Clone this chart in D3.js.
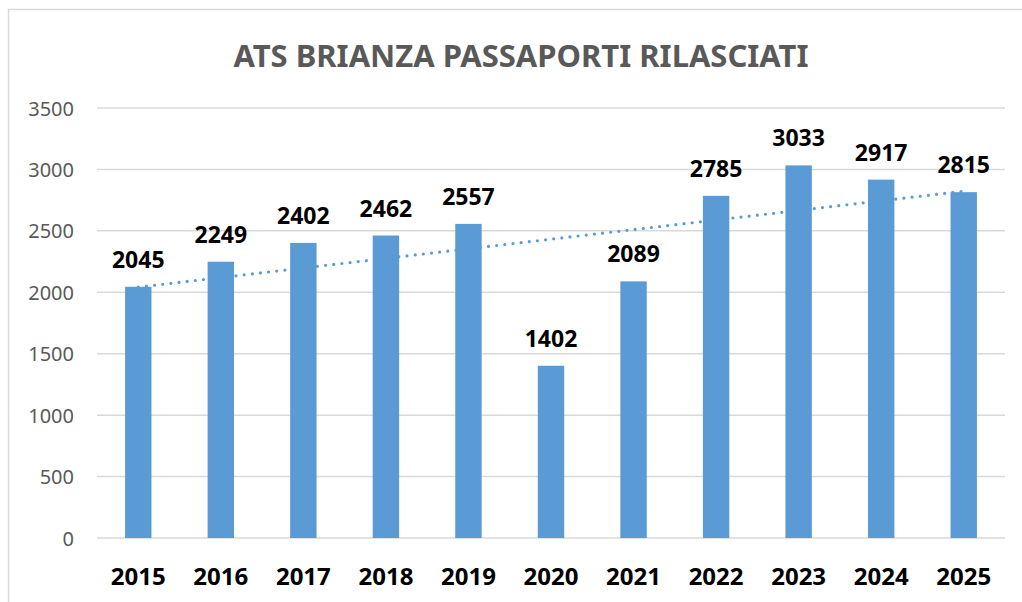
<!DOCTYPE html>
<html>
<head>
<meta charset="utf-8">
<script src="https://cdn.jsdelivr.net/npm/d3@7"></script>
<style>
  body { margin: 0; background: #fff; }
  svg { display: block; }
</style>
</head>
<body>
<svg width="1022" height="602"></svg>
<script>
var years = ["2015", "2016", "2017", "2018", "2019", "2020", "2021", "2022", "2023", "2024", "2025"];
var passports = [2045, 2249, 2402, 2462, 2557, 1402, 2089, 2785, 3033, 2917, 2815];
var yTicks = [0, 500, 1000, 1500, 2000, 2500, 3000, 3500];
var title = "ATS BRIANZA PASSAPORTI RILASCIATI";

var svg = d3.select("svg"),
    width = +svg.attr("width"),
    height = +svg.attr("height"),
    margin = {top: 108, right: 17, bottom: 64, left: 97};

var blue = "#5b9bd5", grey = "#595959", grid = "#d9d9d9";

// chart frame (only left and top edges are in view)
svg.append("path")
    .attr("d", "M8.5,602 V9.5 H1022")
    .attr("fill", "none")
    .attr("stroke", grid)
    .attr("stroke-width", 1.5);

svg.append("text")
    .attr("x", 521)
    .attr("y", 67)
    .attr("text-anchor", "middle")
    .attr("font-family", "Noto Sans, sans-serif")
    .attr("font-weight", "bold")
    .attr("font-size", 31)
    .attr("fill", grey)
    .attr("textLength", 575)
    .attr("lengthAdjust", "spacingAndGlyphs")
    .text(title);

var x = d3.scaleBand()
    .domain(years)
    .range([margin.left, width - margin.right])
    .paddingInner(0.68)
    .paddingOuter(0.34);

var y = d3.scaleLinear()
    .domain([0, 3500])
    .range([height - margin.bottom, margin.top]);

// gridlines
svg.append("g")
  .selectAll("line")
  .data(yTicks)
  .enter().append("line")
    .attr("x1", margin.left)
    .attr("x2", width - margin.right)
    .attr("y1", function(d) { return y(d); })
    .attr("y2", function(d) { return y(d); })
    .attr("stroke", grid)
    .attr("stroke-width", 1.5);

// y axis labels
var yAxis = svg.append("g")
    .attr("transform", "translate(" + (margin.left - 23) + ",0)")
    .call(d3.axisLeft(y).tickValues(yTicks).tickFormat(d3.format("d")).tickSize(0).tickPadding(0));
yAxis.select(".domain").remove();
yAxis.selectAll("text")
    .attr("font-family", "Noto Sans, sans-serif")
    .attr("font-size", 20)
    .attr("fill", grey)
    .attr("dy", "0.35em");

// linear trendline (least squares over the year index)
var n = passports.length,
    xs = d3.range(n),
    mx = d3.mean(xs),
    my = d3.mean(passports),
    slope = d3.sum(xs, function(i) { return (i - mx) * (passports[i] - my); }) /
            d3.sum(xs, function(i) { return (i - mx) * (i - mx); }),
    icpt = my - slope * mx;

var cx = function(i) { return x(years[i]) + x.bandwidth() / 2; };

svg.append("line")
    .attr("x1", cx(0))
    .attr("y1", y(icpt))
    .attr("x2", cx(n - 1))
    .attr("y2", y(icpt + slope * (n - 1)))
    .attr("stroke", blue)
    .attr("stroke-width", 3.2)
    .attr("stroke-linecap", "round")
    .attr("stroke-dasharray", "0 8.2");

// bars
svg.append("g")
  .selectAll("rect")
  .data(passports)
  .enter().append("rect")
    .attr("x", function(d, i) { return x(years[i]); })
    .attr("y", function(d) { return y(d); })
    .attr("width", x.bandwidth())
    .attr("height", function(d) { return y(0) - y(d); })
    .attr("fill", blue);

// data labels
svg.append("g")
  .selectAll("text")
  .data(passports)
  .enter().append("text")
    .attr("x", function(d, i) { return cx(i); })
    .attr("y", function(d) { return y(d) - 19; })
    .attr("text-anchor", "middle")
    .attr("font-family", "Noto Sans, sans-serif")
    .attr("font-weight", "bold")
    .attr("font-size", 23)
    .attr("fill", "#000")
    .text(function(d) { return d; });

// x axis labels
var xAxis = svg.append("g")
    .attr("transform", "translate(0," + (height - margin.bottom) + ")")
    .call(d3.axisBottom(x).tickSize(0).tickPadding(0));
xAxis.select(".domain").remove();
xAxis.selectAll("text")
    .attr("font-family", "Noto Sans, sans-serif")
    .attr("font-weight", "bold")
    .attr("font-size", 24)
    .attr("fill", "#000")
    .attr("dy", null)
    .attr("y", 47);
</script>
</body>
</html>
